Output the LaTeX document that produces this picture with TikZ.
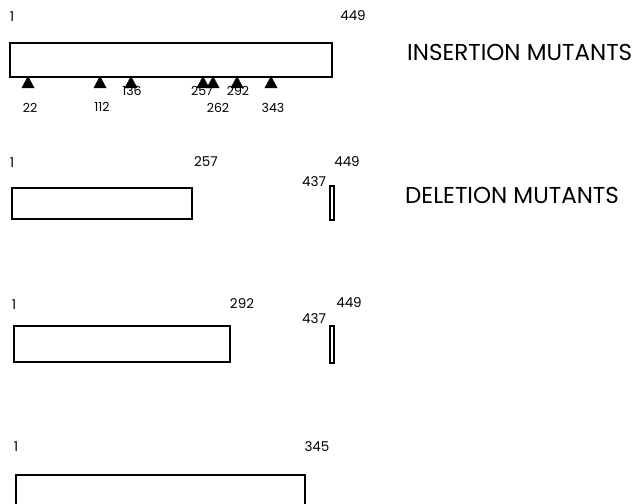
\documentclass[tikz,border=0pt]{standalone}
\usepackage{fontspec}
\setmainfont{Poppins}
\begin{document}
\begin{tikzpicture}[x=1pt,y=-1pt,
  bar/.style={draw=black,line width=1.6pt},
  num/.style={inner sep=0pt,font=\fontsize{13.5}{13.5}\selectfont},
  snum/.style={inner sep=0pt,font=\fontsize{12.5}{12.5}\selectfont},
  title/.style={inner sep=0pt,anchor=west,font=\fontsize{23}{23}\selectfont},
  tri/.style={fill=black}]
\useasboundingbox (0,0) rectangle (636,503);
\clip (0,0) rectangle (636,503);
% insertion
\draw[bar] (10,43) rectangle (332,77);
\foreach \x in {28,100,131,203,213,237,271}{
  \fill[tri] (\x,76) -- (\x+6.5,88) -- (\x-6.5,88) -- cycle;}
\node[num] (i1) at (12,17) {1};
\node[num] (i449) at (353,16) {449};
\node[snum] (t22) at (30,108) {22};
\node[snum] (t112) at (102,107) {112};
\node[snum] (t136) at (132,91) {136};
\node[snum] (t257) at (202,91) {257};
\node[snum] (t262) at (218,108) {262};
\node[snum] (t292) at (238,91) {292};
\node[snum] (t343) at (273,108) {343};
\node[title] (ins) at (407,52) {INSERTION MUTANTS};
% deletion 1
\draw[bar] (12,188) rectangle (192,219);
\draw[bar,line width=1.3pt] (330,186) rectangle (334,220);
\node[num] (a1) at (12,163) {1};
\node[num] (a257) at (206,162) {257};
\node[num] (a449) at (347,162) {449};
\node[num] (a437) at (314,182) {437};
\node[title] (del) at (405,195) {DELETION MUTANTS};
% deletion 2
\draw[bar] (14,326) rectangle (230,362);
\draw[bar,line width=1.3pt] (330,326) rectangle (334,363);
\node[num] (b1) at (14,305) {1};
\node[num] (b292) at (242,304) {292};
\node[num] (b449) at (349,303) {449};
\node[num] (b437) at (314,319) {437};
% deletion 3
\draw[bar] (16,515) -- (16,475) -- (305,475) -- (305,515);
\node[num] (c1) at (16,447) {1};
\node[num] (c345) at (317,447) {345};
\end{tikzpicture}
\end{document}
